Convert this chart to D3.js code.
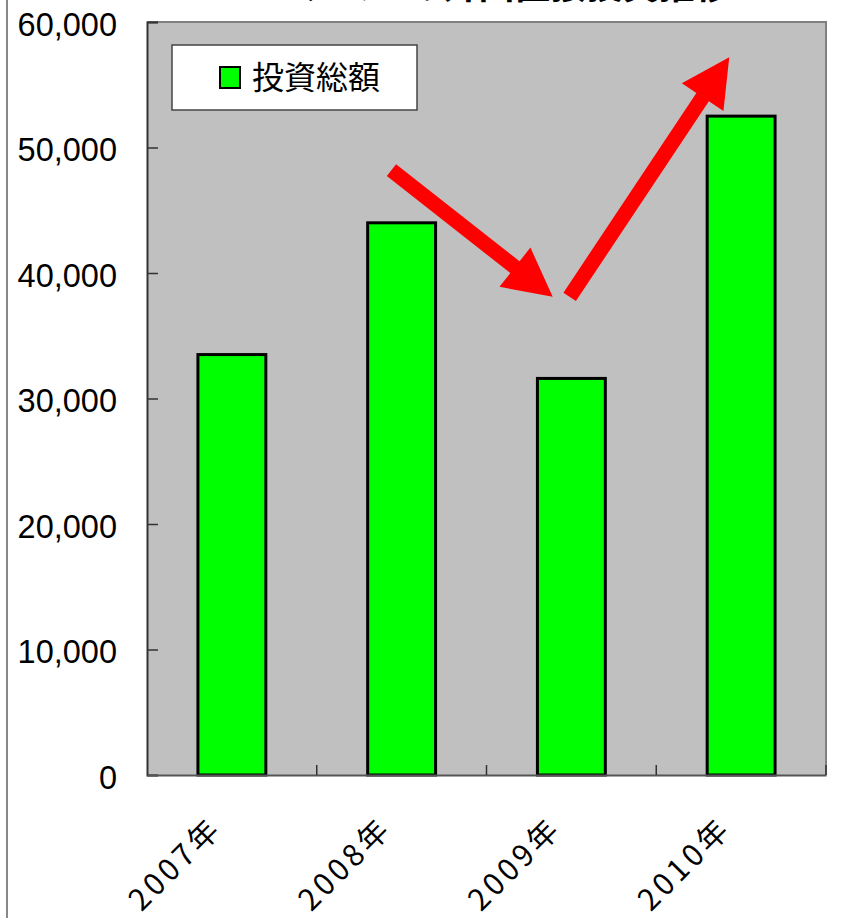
<!DOCTYPE html>
<html>
<head>
<meta charset="utf-8">
<script src="https://cdn.jsdelivr.net/npm/d3@7"></script>
<style>
  body { margin: 0; background: #fff; }
  #chart { width: 852px; height: 918px; }
</style>
</head>
<body>
<div id="chart"></div>
<script>
// データ
const categories = ["2007年", "2008年", "2009年", "2010年"];
const values = [33500, 44000, 31600, 52500];
const yTicks = [0, 10000, 20000, 30000, 40000, 50000, 60000];
const seriesName = "投資総額";
const title = "ベトナムへの外国直接投資推移";

// 矢印 (カテゴリ位置, 値)
const arrows = [
    {x0: 1.44, y0: 48200, x1: 2.39, y1: 38100},
    {x0: 2.49, y0: 38100, x1: 3.43, y1: 57200}
];

const margin = {top: 22, right: 26, bottom: 143, left: 147};
const width = 852 - margin.left - margin.right;
const height = 918 - margin.top - margin.bottom;

const svg = d3.select("#chart")
    .append("svg")
    .attr("width", 852)
    .attr("height", 918);

// 左の枠線
svg.append("line")
    .attr("x1", 7).attr("x2", 7)
    .attr("y1", 0).attr("y2", 918)
    .attr("stroke", "#888").attr("stroke-width", 2);

// タイトル (上部が切れている)
svg.append("text")
    .attr("x", 479).attr("y", -1)
    .attr("text-anchor", "middle")
    .style("font-family", "'Noto Sans CJK JP'")
    .style("font-size", "36px")
    .style("font-weight", "bold")
    .text(title);

const g = svg.append("g")
    .attr("transform", "translate(" + margin.left + "," + margin.top + ")");

const x = d3.scaleBand()
    .domain(categories)
    .range([0, width])
    .paddingInner(0.6)
    .paddingOuter(0.3);

const xi = d3.scaleLinear().domain([0, categories.length]).range([0, width]);

const y = d3.scaleLinear()
    .domain([0, 60000])
    .range([height, 0]);

// 背景
g.append("rect")
    .attr("width", width).attr("height", height)
    .attr("fill", "#c0c0c0");

// 上・右の枠
g.append("path")
    .attr("d", "M0,0H" + width + "V" + height)
    .attr("fill", "none")
    .attr("stroke", "#808080")
    .attr("stroke-width", 2);

// 棒
g.selectAll(".bar")
    .data(values)
    .enter().append("rect")
    .attr("class", "bar")
    .attr("x", (d, i) => x(categories[i]))
    .attr("y", d => y(d))
    .attr("width", x.bandwidth())
    .attr("height", d => height - y(d))
    .attr("fill", "#00ff00")
    .attr("stroke", "#000")
    .attr("stroke-width", 3);

// Y軸
const yAxis = g.append("g")
    .call(d3.axisLeft(y).tickValues(yTicks).tickSize(-11).tickPadding(30)
        .tickFormat(d3.format(",")));
yAxis.select(".domain").attr("stroke", "#333").attr("stroke-width", 2);
yAxis.selectAll(".tick line").attr("stroke", "#333").attr("stroke-width", 1.5);
yAxis.selectAll(".tick text")
    .attr("fill", "#000")
    .attr("y", 3)
    .style("font-family", "'Liberation Sans', Arial")
    .style("font-size", "32.5px");

// X軸
const xAxis = g.append("g")
    .attr("transform", "translate(0," + height + ")")
    .call(d3.axisBottom(x).tickSize(0).tickFormat(""));
xAxis.select(".domain").attr("stroke", "#555").attr("stroke-width", 2);

g.selectAll(".xtick")
    .data(d3.range(1, categories.length + 1))
    .enter().append("line")
    .attr("x1", d => xi(d)).attr("x2", d => xi(d))
    .attr("y1", height).attr("y2", height - 10)
    .attr("stroke", "#333").attr("stroke-width", 1.5);

g.selectAll(".xlabel")
    .data(categories)
    .enter().append("text")
    .attr("class", "xlabel")
    .attr("text-anchor", "end")
    .attr("transform", d => "translate(" + (x(d) + x.bandwidth() / 2 - 8) + "," + (height + 55) + ") rotate(-45)")
    .style("font-family", "'Noto Sans CJK JP'")
    .style("font-size", "30px")
    .style("letter-spacing", "4px")
    .attr("fill", "#000")
    .text(d => d);

// 矢印
function arrowPath(a) {
    const sx = xi(a.x0), sy = y(a.y0), tx = xi(a.x1), ty = y(a.y1);
    const dx = tx - sx, dy = ty - sy, len = Math.hypot(dx, dy);
    const ux = dx / len, uy = dy / len, nx = -uy, ny = ux;
    const sw = 7.5, hl = 48, hw = 25;
    const bx = tx - ux * hl, by = ty - uy * hl;
    const pts = [
        [sx + nx * sw, sy + ny * sw],
        [bx + nx * sw, by + ny * sw],
        [bx + nx * hw, by + ny * hw],
        [tx, ty],
        [bx - nx * hw, by - ny * hw],
        [bx - nx * sw, by - ny * sw],
        [sx - nx * sw, sy - ny * sw]
    ];
    return "M" + pts.map(p => p.join(",")).join("L") + "Z";
}

g.selectAll(".arrow")
    .data(arrows)
    .enter().append("path")
    .attr("class", "arrow")
    .attr("d", arrowPath)
    .attr("fill", "#ff0000");

// 凡例
const legend = g.append("g").attr("transform", "translate(25,23)");
legend.append("rect")
    .attr("width", 245).attr("height", 65)
    .attr("fill", "#fff")
    .attr("stroke", "#444").attr("stroke-width", 1.5);
legend.append("rect")
    .attr("x", 48).attr("y", 22)
    .attr("width", 20).attr("height", 21)
    .attr("fill", "#00ff00")
    .attr("stroke", "#000").attr("stroke-width", 2);
legend.append("text")
    .attr("x", 80).attr("y", 44)
    .style("font-family", "'Noto Sans CJK JP'")
    .style("font-size", "32px")
    .text(seriesName);
</script>
</body>
</html>
